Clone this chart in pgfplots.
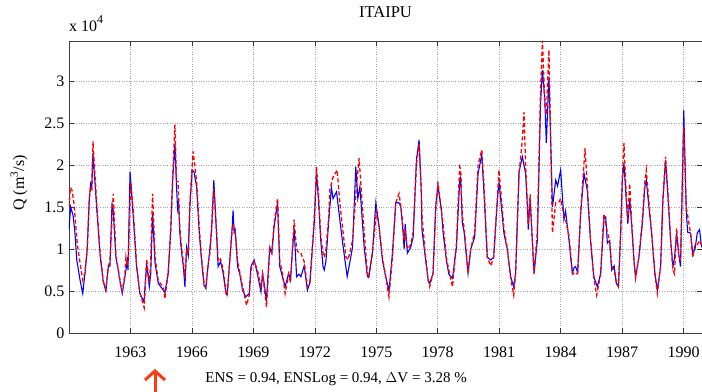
\documentclass[border=0pt]{standalone}
\usepackage{pgfplots}
\pgfplotsset{compat=1.18}
\usepackage{pgfplotstable}
\usepackage{fontspec}
\setmainfont{Liberation Serif}
\usetikzlibrary{arrows.meta}
\definecolor{arrowred}{RGB}{250,60,20}

% observed discharge (x 10^4 m3/s)
\pgfplotstableread{
year q
1960.00 1.23
1960.08 1.50
1960.20 1.40
1960.29 1.19
1960.38 0.87
1960.54 0.63
1960.67 0.47
1960.78 0.71
1960.89 1.00
1960.99 1.58
1961.06 1.80
1961.11 1.70
1961.17 2.14
1961.35 1.50
1961.51 0.95
1961.67 0.61
1961.80 0.50
1961.92 0.79
1962.00 0.80
1962.10 1.55
1962.16 1.45
1962.29 0.90
1962.39 0.77
1962.52 0.57
1962.60 0.47
1962.73 0.67
1962.78 0.75
1962.84 0.85
1962.88 0.75
1962.98 1.92
1963.14 1.38
1963.30 0.79
1963.46 0.47
1963.66 0.37
1963.79 0.83
1963.92 0.55
1963.99 0.70
1964.08 1.43
1964.20 0.83
1964.36 0.59
1964.60 0.51
1964.68 0.48
1964.84 0.71
1964.96 1.19
1965.06 1.82
1965.17 2.25
1965.25 1.74
1965.30 1.48
1965.35 1.55
1965.41 1.19
1965.50 0.95
1965.58 0.80
1965.66 0.55
1965.74 1.02
1965.82 0.92
1965.90 1.50
1966.01 1.94
1966.10 1.92
1966.23 1.74
1966.36 1.19
1966.47 0.87
1966.59 0.57
1966.68 0.53
1966.80 0.83
1966.88 1.00
1966.96 1.23
1967.07 1.82
1967.20 1.19
1967.28 0.79
1967.40 0.85
1967.53 0.71
1967.66 0.47
1967.72 0.45
1967.85 0.87
1967.97 1.27
1968.01 1.46
1968.06 1.20
1968.11 1.23
1968.15 1.10
1968.23 0.79
1968.34 0.70
1968.47 0.51
1968.63 0.43
1968.80 0.47
1968.88 0.79
1969.04 0.87
1969.20 0.70
1969.37 0.49
1969.45 0.71
1969.55 0.55
1969.64 0.38
1969.80 1.02
1969.90 0.95
1970.01 1.26
1970.18 1.55
1970.29 0.79
1970.42 0.67
1970.55 0.55
1970.72 0.71
1970.81 0.63
1970.91 0.99
1970.99 1.25
1971.11 0.67
1971.22 0.70
1971.32 0.67
1971.48 0.80
1971.64 0.51
1971.76 0.60
1971.97 1.31
1972.08 1.90
1972.18 1.58
1972.29 1.10
1972.40 0.79
1972.46 0.75
1972.54 0.85
1972.67 1.31
1972.81 1.73
1972.89 1.60
1973.06 1.68
1973.22 1.35
1973.38 1.03
1973.58 0.67
1973.84 1.02
1974.00 1.98
1974.10 1.60
1974.20 1.74
1974.41 1.02
1974.57 0.67
1974.63 0.66
1974.81 0.95
1974.98 1.55
1975.14 1.26
1975.30 0.87
1975.46 0.67
1975.62 0.50
1975.79 0.95
1975.95 1.55
1976.11 1.55
1976.20 1.50
1976.31 1.19
1976.36 1.00
1976.41 1.30
1976.52 0.95
1976.68 1.02
1976.80 1.14
1976.96 2.06
1977.09 2.30
1977.20 1.66
1977.23 1.23
1977.37 0.95
1977.53 0.63
1977.61 0.59
1977.77 0.71
1977.90 1.50
1978.01 1.76
1978.18 1.46
1978.26 1.20
1978.42 0.87
1978.54 0.70
1978.72 0.65
1978.91 1.02
1979.07 1.80
1979.12 1.85
1979.20 1.31
1979.29 1.20
1979.48 0.71
1979.61 1.00
1979.80 1.14
1979.97 1.90
1980.15 2.12
1980.26 1.66
1980.42 0.90
1980.59 0.87
1980.73 0.90
1980.91 1.58
1980.99 1.80
1981.23 1.19
1981.40 0.99
1981.56 0.67
1981.71 0.55
1981.80 0.71
1981.97 1.92
1982.13 2.10
1982.29 1.90
1982.38 1.50
1982.42 1.23
1982.51 1.60
1982.70 0.71
1982.86 1.10
1983.02 2.74
1983.11 3.13
1983.23 2.77
1983.30 2.26
1983.43 3.05
1983.60 1.50
1983.76 1.82
1983.85 1.75
1984.00 1.94
1984.16 1.35
1984.24 1.45
1984.41 1.10
1984.57 0.71
1984.66 0.78
1984.73 0.79
1984.83 0.72
1984.98 1.43
1985.14 1.90
1985.30 1.70
1985.46 1.10
1985.62 0.67
1985.79 0.55
1985.95 0.70
1986.11 1.35
1986.20 1.38
1986.28 1.07
1986.39 1.10
1986.49 0.75
1986.61 0.80
1986.72 0.59
1986.82 0.55
1986.93 1.19
1987.01 1.82
1987.09 2.02
1987.21 1.55
1987.28 1.30
1987.37 1.60
1987.46 1.31
1987.58 0.87
1987.66 0.67
1987.82 0.90
1987.99 1.31
1988.11 1.74
1988.18 1.82
1988.31 1.50
1988.44 1.19
1988.60 0.71
1988.72 0.51
1988.88 0.79
1988.99 1.58
1989.12 2.06
1989.24 1.62
1989.37 1.10
1989.48 0.79
1989.56 0.90
1989.66 1.19
1989.76 0.95
1989.85 0.79
1989.97 2.14
1990.01 2.65
1990.13 1.46
1990.20 1.20
1990.34 1.19
1990.45 0.95
1990.56 1.00
1990.67 1.19
1990.78 1.23
1990.88 1.02
}\qobs

% simulated discharge
\pgfplotstableread{
year q
1960.00 1.50
1960.07 1.73
1960.15 1.70
1960.24 1.55
1960.40 1.07
1960.54 0.83
1960.67 0.63
1960.78 0.72
1960.89 1.00
1960.99 1.60
1961.06 1.75
1961.11 1.72
1961.17 2.28
1961.35 1.55
1961.51 0.98
1961.67 0.62
1961.80 0.52
1961.92 0.80
1962.00 0.85
1962.16 1.66
1962.29 0.92
1962.39 0.78
1962.52 0.58
1962.60 0.50
1962.73 0.70
1962.78 0.90
1962.84 0.80
1962.90 0.90
1963.01 1.80
1963.14 1.45
1963.30 0.80
1963.46 0.48
1963.67 0.30
1963.79 0.88
1963.92 0.60
1963.98 0.80
1964.08 1.66
1964.20 0.90
1964.36 0.62
1964.60 0.55
1964.68 0.41
1964.84 0.71
1964.96 1.20
1965.06 1.85
1965.17 2.48
1965.25 1.80
1965.32 1.80
1965.41 1.25
1965.50 1.00
1965.58 0.85
1965.66 0.65
1965.74 1.00
1965.82 0.95
1965.90 1.55
1966.06 2.16
1966.23 1.80
1966.36 1.25
1966.47 0.90
1966.59 0.60
1966.68 0.55
1966.80 0.83
1966.88 0.95
1966.96 1.25
1967.07 1.72
1967.20 1.22
1967.28 0.85
1967.40 0.88
1967.53 0.75
1967.66 0.48
1967.72 0.45
1967.85 0.87
1967.97 1.25
1968.01 1.30
1968.11 1.20
1968.23 0.85
1968.34 0.72
1968.47 0.55
1968.67 0.33
1968.80 0.45
1968.88 0.75
1969.04 0.85
1969.20 0.75
1969.37 0.55
1969.45 0.70
1969.55 0.50
1969.64 0.31
1969.80 1.00
1969.90 0.95
1970.01 1.30
1970.18 1.60
1970.29 0.85
1970.42 0.72
1970.55 0.47
1970.72 0.70
1970.81 0.60
1970.91 1.00
1970.99 1.35
1971.11 1.00
1971.22 0.95
1971.32 0.95
1971.48 0.85
1971.64 0.55
1971.76 0.60
1971.97 1.35
1972.08 1.98
1972.18 1.65
1972.29 1.15
1972.40 0.95
1972.46 0.90
1972.54 0.99
1972.67 1.35
1972.73 1.70
1972.88 1.85
1973.09 1.94
1973.22 1.55
1973.38 1.20
1973.51 0.91
1973.62 0.87
1973.84 1.10
1974.03 1.74
1974.16 2.08
1974.24 1.80
1974.41 1.20
1974.57 0.70
1974.63 0.66
1974.81 0.95
1975.01 1.45
1975.14 1.25
1975.30 0.90
1975.46 0.67
1975.62 0.43
1975.79 0.90
1975.95 1.55
1976.11 1.66
1976.20 1.50
1976.31 1.25
1976.36 1.10
1976.41 1.20
1976.52 1.00
1976.68 1.05
1976.80 1.20
1976.96 2.00
1977.09 2.25
1977.20 1.70
1977.23 1.40
1977.37 1.00
1977.53 0.63
1977.61 0.55
1977.77 0.71
1977.90 1.45
1978.01 1.80
1978.18 1.45
1978.26 1.30
1978.42 0.90
1978.54 0.75
1978.72 0.55
1978.91 1.05
1979.07 1.98
1979.12 1.95
1979.20 1.40
1979.29 1.25
1979.48 0.71
1979.61 1.00
1979.80 1.20
1979.97 2.00
1980.15 2.18
1980.26 1.75
1980.42 0.90
1980.59 0.80
1980.73 0.90
1980.91 1.60
1980.99 1.94
1981.23 1.25
1981.40 1.00
1981.56 0.65
1981.71 0.45
1981.80 0.70
1981.97 1.90
1982.13 2.30
1982.21 2.63
1982.29 2.00
1982.38 1.50
1982.42 1.30
1982.51 1.65
1982.70 0.70
1982.86 1.20
1983.02 2.90
1983.11 3.48
1983.23 2.70
1983.30 2.60
1983.43 3.37
1983.60 1.19
1983.76 1.55
1983.92 1.56
1984.00 1.60
1984.16 1.40
1984.24 1.35
1984.41 1.15
1984.57 0.72
1984.66 0.70
1984.73 0.69
1984.83 0.72
1984.98 1.45
1985.19 2.20
1985.30 1.75
1985.46 1.10
1985.62 0.65
1985.76 0.45
1985.95 0.70
1986.11 1.42
1986.20 1.30
1986.28 1.20
1986.39 1.10
1986.49 0.80
1986.61 0.75
1986.72 0.60
1986.82 0.55
1986.93 1.20
1987.01 1.85
1987.09 2.26
1987.21 1.60
1987.28 1.35
1987.37 1.78
1987.46 1.35
1987.58 0.85
1987.66 0.65
1987.82 0.90
1987.99 1.35
1988.11 1.80
1988.18 1.94
1988.31 1.55
1988.44 1.20
1988.60 0.70
1988.72 0.47
1988.88 0.80
1988.99 1.58
1989.12 2.10
1989.24 1.65
1989.37 1.10
1989.48 0.75
1989.56 0.70
1989.66 1.25
1989.76 0.95
1989.85 0.85
1989.97 2.10
1990.01 2.45
1990.13 1.50
1990.20 1.40
1990.34 1.19
1990.45 0.90
1990.56 1.05
1990.67 1.05
1990.78 1.10
1990.88 1.05
}\qsim

\begin{document}
\begin{tikzpicture}
\begin{axis}[
  name=ax,
  scale only axis,
  width=633pt, height=292pt,
  xmin=1960, xmax=1990.9,
  ymin=0, ymax=3.476,
  xtick={1963,1966,1969,1972,1975,1978,1981,1984,1987,1990},
  xticklabels={1963,1966,1969,1972,1975,1978,1981,1984,1987,1990},
  ytick={0,0.5,1,1.5,2,2.5,3},
  yticklabels={0,0.5,1,1.5,2,2.5,3},
  scaled ticks=false,
  tick align=inside,
  major tick length=5pt,
  tick style={black!80, line width=0.6pt},
  axis line style={black!75, line width=0.9pt},
  grid=major,
  major grid style={dotted, gray!70, line width=0.6pt},
  ticklabel style={font=\fontsize{16}{18}\selectfont},
  xticklabel style={anchor=base, yshift=-25pt},
  yticklabel style={anchor=east, xshift=-1pt},
  ylabel={Q (m\textsuperscript{3}/s)},
  ylabel style={font=\fontsize{16}{18}\selectfont, at={(axis description cs:-0.06,0.514)},
    anchor=south},
  title={ITAIPU},
  title style={font=\fontsize{16.5}{18}\selectfont, at={(axis description cs:0.5,1)},
    anchor=base, yshift=17pt},
  xlabel={ENS = 0.94, ENSLog = 0.94, $\Delta$V = 3.28 \%},
  xlabel style={font=\fontsize{15}{17}\selectfont, at={(axis description cs:0.422,0)},
    anchor=base, yshift=-50pt},
  clip=true,
]
\addplot[blue, line width=1.1pt] table[x=year, y=q] {\qobs};
\addplot[red, line width=1.3pt, dash pattern=on 4pt off 2.5pt] table[x=year, y=q] {\qsim};
\end{axis}
\node[anchor=base west, font=\fontsize{16}{18}\selectfont, inner sep=0pt]
  at ([yshift=9pt]ax.north west) {x 10\raisebox{8pt}{\fontsize{12}{12}\selectfont 4}};
\draw[arrowred, line width=3pt, -{Straight Barb[length=9pt,width=20pt,line width=3pt]}]
  ([shift={(86pt,-62pt)}]ax.south west) -- ([shift={(86pt,-36pt)}]ax.south west);
\pgfresetboundingbox
\path ([shift={(-69pt,-59pt)}]ax.south west) rectangle ([shift={(0pt,41pt)}]ax.north east);
\end{tikzpicture}
\end{document}
